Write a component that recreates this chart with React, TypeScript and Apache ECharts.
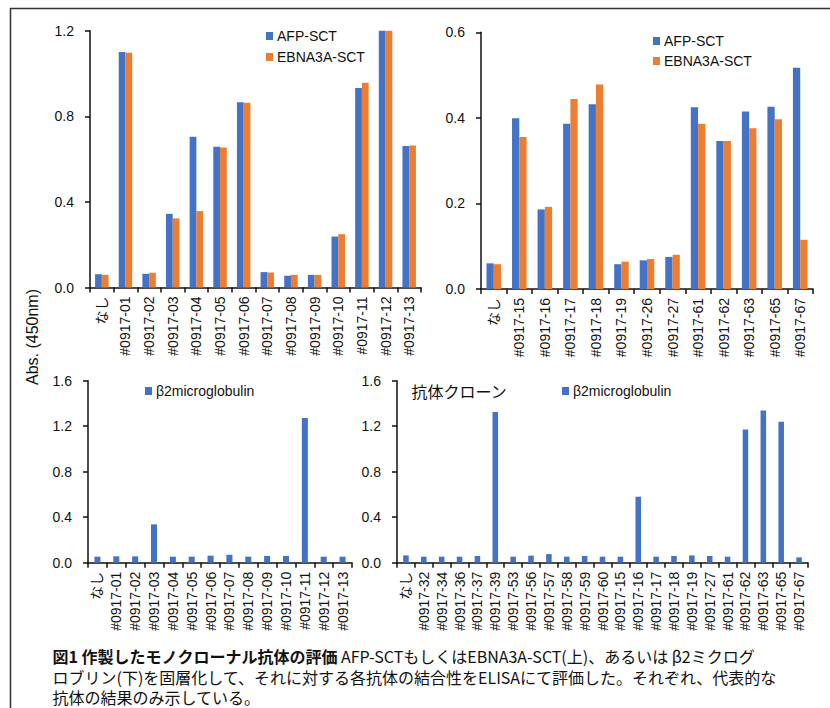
import React, { useEffect, useRef } from "react";
import * as echarts from "echarts";

const topLeftCategories = ["なし", "#0917-01", "#0917-02", "#0917-03", "#0917-04", "#0917-05", "#0917-06", "#0917-07", "#0917-08", "#0917-09", "#0917-10", "#0917-11", "#0917-12", "#0917-13"];
const topLeftAFP = [0.062, 1.1, 0.064, 0.344, 0.704, 0.658, 0.866, 0.072, 0.055, 0.059, 0.238, 0.932, 1.2, 0.661];
const topLeftEBNA = [0.059, 1.097, 0.069, 0.323, 0.357, 0.654, 0.863, 0.07, 0.059, 0.059, 0.249, 0.957, 1.2, 0.664];

const topRightCategories = ["なし", "#0917-15", "#0917-16", "#0917-17", "#0917-18", "#0917-19", "#0917-26", "#0917-27", "#0917-61", "#0917-62", "#0917-63", "#0917-65", "#0917-67"];
const topRightAFP = [0.06, 0.399, 0.186, 0.386, 0.432, 0.058, 0.067, 0.075, 0.425, 0.346, 0.415, 0.426, 0.517];
const topRightEBNA = [0.058, 0.355, 0.192, 0.444, 0.478, 0.064, 0.07, 0.08, 0.386, 0.346, 0.376, 0.397, 0.115];

const bottomLeftCategories = ["なし", "#0917-01", "#0917-02", "#0917-03", "#0917-04", "#0917-05", "#0917-06", "#0917-07", "#0917-08", "#0917-09", "#0917-10", "#0917-11", "#0917-12", "#0917-13"];
const bottomLeftB2M = [0.053, 0.056, 0.056, 0.337, 0.053, 0.053, 0.062, 0.07, 0.053, 0.059, 0.059, 1.272, 0.053, 0.053];

const bottomRightCategories = ["なし", "#0917-32", "#0917-34", "#0917-36", "#0917-37", "#0917-39", "#0917-53", "#0917-56", "#0917-57", "#0917-58", "#0917-59", "#0917-60", "#0917-15", "#0917-16", "#0917-17", "#0917-18", "#0917-19", "#0917-27", "#0917-61", "#0917-62", "#0917-63", "#0917-65", "#0917-67"];
const bottomRightB2M = [0.064, 0.053, 0.053, 0.053, 0.059, 1.325, 0.053, 0.062, 0.076, 0.053, 0.059, 0.053, 0.053, 0.58, 0.053, 0.059, 0.064, 0.059, 0.053, 1.172, 1.339, 1.24, 0.047];

const yTopLeft = { max: 1.2, interval: 0.4 };
const yTopRight = { max: 0.6, interval: 0.2 };
const yBottom = { max: 1.6, interval: 0.4 };

const seriesNames = ["AFP-SCT", "EBNA3A-SCT", "β2microglobulin"];
const yTitle = "Abs. (450nm)";
const cloneLabel = "抗体クローン";
const captionBold = "図1 作製したモノクローナル抗体の評価";
const captionLine1 = "AFP-SCTもしくはEBNA3A-SCT(上)、あるいは β2ミクログ";
const captionLine2 = "ロブリン(下)を固層化して、それに対する各抗体の結合性をELISAにて評価した。それぞれ、代表的な";
const captionLine3 = "抗体の結果のみ示している。";

const BLUE = "#4472C4";
const ORANGE = "#ED7D31";
const FONT = "'Liberation Sans', Arial, 'Noto Sans CJK JP', sans-serif";
const JFONT = "'Noto Sans CJK JP', 'Noto Sans', sans-serif";
const CAP = 16;
const CAP_LH = 20.5;

function xAxis(gridIndex: number, data: string[]) {
  return {
    type: "category",
    gridIndex,
    data,
    axisLine: { lineStyle: { color: "#111", width: 1.5 } },
    axisTick: { show: true, length: 5, lineStyle: { color: "#111", width: 1.5 } },
    axisLabel: { rotate: 90, interval: 0, fontSize: 14, color: "#111", fontFamily: FONT, margin: 9 },
  };
}

function yAxis(gridIndex: number, cfg: { max: number; interval: number }) {
  return {
    type: "value",
    gridIndex,
    min: 0,
    max: cfg.max,
    interval: cfg.interval,
    splitLine: { show: false },
    axisLine: { show: true, lineStyle: { color: "#111", width: 1.5 } },
    axisTick: { show: true, length: 5, lineStyle: { color: "#111", width: 1.5 } },
    axisLabel: { fontSize: 14, color: "#111", fontFamily: FONT, margin: 16, formatter: (v: number) => v.toFixed(1) },
  };
}

function legend(left: number, top: number, data: string[], gap: number) {
  return {
    left,
    top,
    orient: "vertical",
    padding: 0,
    itemWidth: 7,
    itemHeight: 8,
    itemGap: gap,
    icon: "rect",
    data,
    textStyle: { fontSize: 14, color: "#111", fontFamily: FONT, padding: [0, 0, 0, -1] },
  };
}

export default function App() {
  const ref = useRef<HTMLDivElement>(null);
  useEffect(() => {
    if (!ref.current) return;
    const chart = echarts.init(ref.current, undefined, { renderer: "svg" });
    chart.setOption({
      animation: false,
      backgroundColor: "#fff",
      grid: [
        { left: 90, top: 30.7, width: 331, height: 256.8 },
        { left: 481, top: 32.3, width: 332, height: 256.7 },
        { left: 88, top: 380.7, width: 264, height: 182 },
        { left: 397, top: 380.7, width: 411, height: 182 },
      ],
      xAxis: [
        xAxis(0, topLeftCategories),
        xAxis(1, topRightCategories),
        xAxis(2, bottomLeftCategories),
        xAxis(3, bottomRightCategories),
      ],
      yAxis: [yAxis(0, yTopLeft), yAxis(1, yTopRight), yAxis(2, yBottom), yAxis(3, yBottom)],
      legend: [
        legend(266, 29, [seriesNames[0], seriesNames[1]], 7),
        legend(653, 34, [seriesNames[0], seriesNames[1]], 6),
        legend(145, 384, [seriesNames[2]], 5),
        legend(562, 384, [seriesNames[2]], 5),
      ],
      series: [
        { type: "bar", name: seriesNames[0], xAxisIndex: 0, yAxisIndex: 0, data: topLeftAFP, itemStyle: { color: BLUE }, barGap: "0%", barCategoryGap: "43%" },
        { type: "bar", name: seriesNames[1], xAxisIndex: 0, yAxisIndex: 0, data: topLeftEBNA, itemStyle: { color: ORANGE }, barGap: "0%", barCategoryGap: "43%" },
        { type: "bar", name: seriesNames[0], xAxisIndex: 1, yAxisIndex: 1, data: topRightAFP, itemStyle: { color: BLUE }, barGap: "0%", barCategoryGap: "43%" },
        { type: "bar", name: seriesNames[1], xAxisIndex: 1, yAxisIndex: 1, data: topRightEBNA, itemStyle: { color: ORANGE }, barGap: "0%", barCategoryGap: "43%" },
        { type: "bar", name: seriesNames[2], xAxisIndex: 2, yAxisIndex: 2, data: bottomLeftB2M, itemStyle: { color: BLUE }, barCategoryGap: "68%" },
        { type: "bar", name: seriesNames[2], xAxisIndex: 3, yAxisIndex: 3, data: bottomRightB2M, itemStyle: { color: BLUE }, barCategoryGap: "69%" },
      ],
      graphic: [
        { type: "line", shape: { x1: 10, y1: 8.5, x2: 830, y2: 8.5 }, style: { stroke: "#333", lineWidth: 1.5 } },
        { type: "line", shape: { x1: 10.5, y1: 8, x2: 10.5, y2: 708 }, style: { stroke: "#333", lineWidth: 1.5 } },
        {
          type: "text",
          x: 32,
          y: 337,
          rotation: Math.PI / 2,
          style: { text: yTitle, fontSize: 16, fill: "#111", fontFamily: FONT, textAlign: "center", textVerticalAlign: "middle" },
        },
        {
          type: "text",
          x: 411.5,
          y: 391,
          style: { text: cloneLabel, fontSize: 16, fill: "#111", fontFamily: JFONT, textAlign: "left", textVerticalAlign: "middle" },
        },
        {
          type: "text",
          x: 52.5,
          y: 646,
          style: {
            text:
              "{b|" + captionBold + "} {n|" + captionLine1 + "}\n{n|" + captionLine2 + "}\n{n|" + captionLine3 + "}",
            textAlign: "left",
            textVerticalAlign: "top",
            rich: {
              b: { fontSize: CAP, lineHeight: CAP_LH, fontWeight: "bold", fill: "#111", fontFamily: JFONT },
              n: { fontSize: CAP, lineHeight: CAP_LH, fill: "#111", fontFamily: JFONT },
            },
          },
        },
      ],
    });
    return () => chart.dispose();
  }, []);
  return <div ref={ref} style={{ position: "fixed", left: 0, top: 0, width: 830, height: 708 }} />;
}
